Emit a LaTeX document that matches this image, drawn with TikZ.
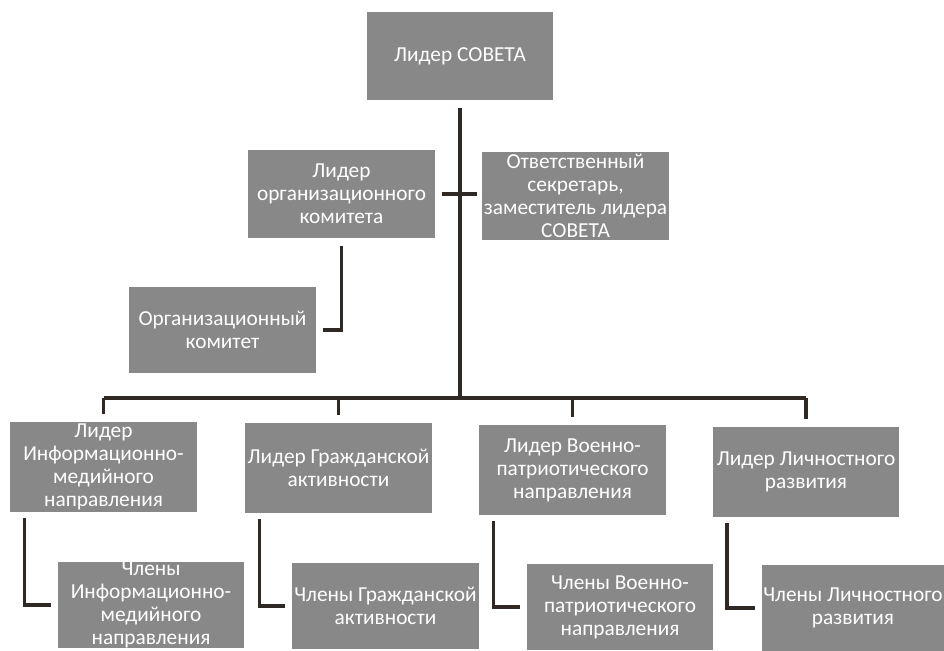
\documentclass[tikz,border=0pt]{standalone}
\usepackage{fontspec}
\setmainfont{Carlito}
\usepackage{xcolor}
\usepackage{tikz}
\usetikzlibrary{calc}
\usetikzlibrary{positioning}
\definecolor{boxgray}{RGB}{136,136,136}
\definecolor{linedark}{RGB}{48,40,36}
\tikzstyle{box} = [draw=none, fill=boxgray, text=white, align=center, inner sep=0, minimum width=140pt, minimum height=66pt, font=\fontsize{16}{17.25}\selectfont]
\tikzstyle{link} = [-, draw=linedark, line width=2.8pt]

\begin{document}
\begin{tikzpicture}[x=0.75pt, y=-0.75pt]
\useasboundingbox (0,0) rectangle (944,650);
% top level
\node [box] (S) at (460, 56) {Лидер СОВЕТА};
\node [box] (O) at (341.5, 194) {Лидер\\организационного\\комитета};
\node [box] (Z) at (575.5, 196) {Ответственный\\секретарь,\\заместитель лидера\\СОВЕТА};
\node [box, minimum height=64.5pt] (K) at (222.5, 330) {Организационный\\комитет};
% leaders of directions
\node [box, minimum height=67.5pt] (L1) at (103.5, 467) {Лидер\\Информационно-\\медийного\\направления};
\node [box, minimum height=67.5pt] (L2) at (338.5, 468) {Лидер Гражданской\\активности};
\node [box, minimum height=67.5pt] (L3) at (572.5, 470) {Лидер Военно-\\патриотического\\направления};
\node [box, minimum height=67.5pt] (L4) at (806, 472) {Лидер Личностного\\развития};
% members
\node [box, minimum height=65pt] (C1) at (151, 605) {Члены\\Информационно-\\медийного\\направления};
\node [box, minimum height=65pt] (C2) at (385.5, 606) {Члены Гражданской\\активности};
\node [box, minimum height=65pt] (C3) at (620, 607) {Члены Военно-\\патриотического\\направления};
\node [box, minimum height=65pt, minimum width=136.5pt] (C4) at (853, 608) {Члены Личностного\\развития};
\coordinate (bus) at (460, 398);
\draw [link, shorten <=6pt] (S.south) to (S.south |- bus);
\draw [link, shorten <=5pt, shorten >=4pt] (O.east) to (O.east -| Z.west);
\draw [link, shorten <=6pt, shorten >=5pt] (O.south) |- (K.east);
\draw [link] (L1.north |- bus) to (L4.north |- bus);
\foreach \n in {L1, L2, L3, L4}
  \draw [link, shorten >=6pt] (\n.north |- bus) to (\n.north);
\foreach \n/\m in {L1/C1, L2/C2, L3/C3, L4/C4}
  \draw [link, shorten <=4.5pt, shorten >=5pt] ([xshift=11pt]\n.south west) |- (\m.west);
\end{tikzpicture}
\end{document}
